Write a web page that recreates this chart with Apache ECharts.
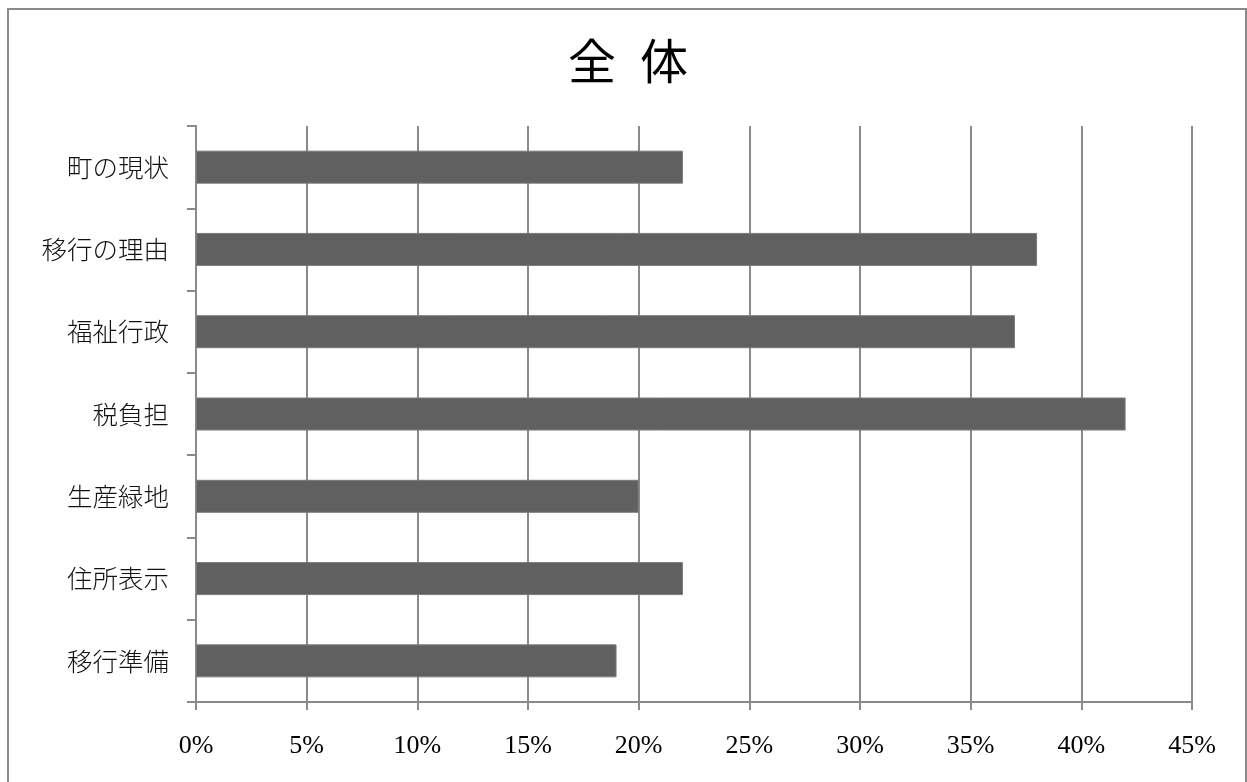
<!DOCTYPE html>
<html>
<head>
<meta charset="utf-8">
<script src="https://cdn.jsdelivr.net/npm/echarts@6/dist/echarts.min.js"></script>
<style>
  html, body { margin: 0; padding: 0; background: #fff; }
  #chart { width: 1247px; height: 782px; }
</style>
</head>
<body>
<div id="chart"></div>
<script>
// 項目（上から順に）
const categories = ['町の現状', '移行の理由', '福祉行政', '税負担', '生産緑地', '住所表示', '移行準備'];
// 割合（%）
const values = [22, 38, 37, 42, 20, 22, 19];
// 横軸の目盛り
const xTicks = { min: 0, max: 45, interval: 5 };
const titleText = '全\u2002体';

const gray = '#8a8a8a';
const chart = echarts.init(document.getElementById('chart'), null, { renderer: 'canvas' });

chart.setOption({
  backgroundColor: '#ffffff',
  animation: false,
  graphic: [
    {
      type: 'rect',
      shape: { x: 8, y: 9, width: 1238, height: 800 },
      style: { fill: 'none', stroke: gray, lineWidth: 2 },
      silent: true
    },
    {
      type: 'text',
      style: {
        text: titleText,
        x: 628,
        y: 61,
        textAlign: 'center',
        textVerticalAlign: 'middle',
        font: '48px "Noto Sans CJK JP"',
        fill: '#000'
      },
      silent: true
    }
  ],
  grid: { left: 196, right: 55, top: 126, bottom: 80, containLabel: false },
  xAxis: {
    type: 'value',
    min: xTicks.min,
    max: xTicks.max,
    interval: xTicks.interval,
    axisLine: { show: true, lineStyle: { color: gray, width: 2 } },
    axisTick: { show: true, length: 8, lineStyle: { color: gray, width: 2 } },
    splitLine: { show: true, lineStyle: { color: gray, width: 2 } },
    axisLabel: {
      formatter: '{value}%',
      margin: 31,
      color: '#000',
      fontFamily: '"Liberation Serif", serif',
      fontSize: 26
    }
  },
  yAxis: {
    type: 'category',
    data: categories,
    inverse: true,
    axisLine: { show: true, lineStyle: { color: gray, width: 2 } },
    axisTick: { show: true, length: 9, lineStyle: { color: gray, width: 2 } },
    splitLine: { show: false },
    axisLabel: {
      margin: 27,
      color: '#111',
      fontFamily: '"Noto Sans CJK JP"',
      fontWeight: 300,
      fontSize: 25.5
    }
  },
  series: [{
    type: 'bar',
    data: values,
    barWidth: 33,
    itemStyle: { color: '#606060', borderColor: '#7a7a7a', borderWidth: 1 },
    silent: true
  }]
});
</script>
</body>
</html>
